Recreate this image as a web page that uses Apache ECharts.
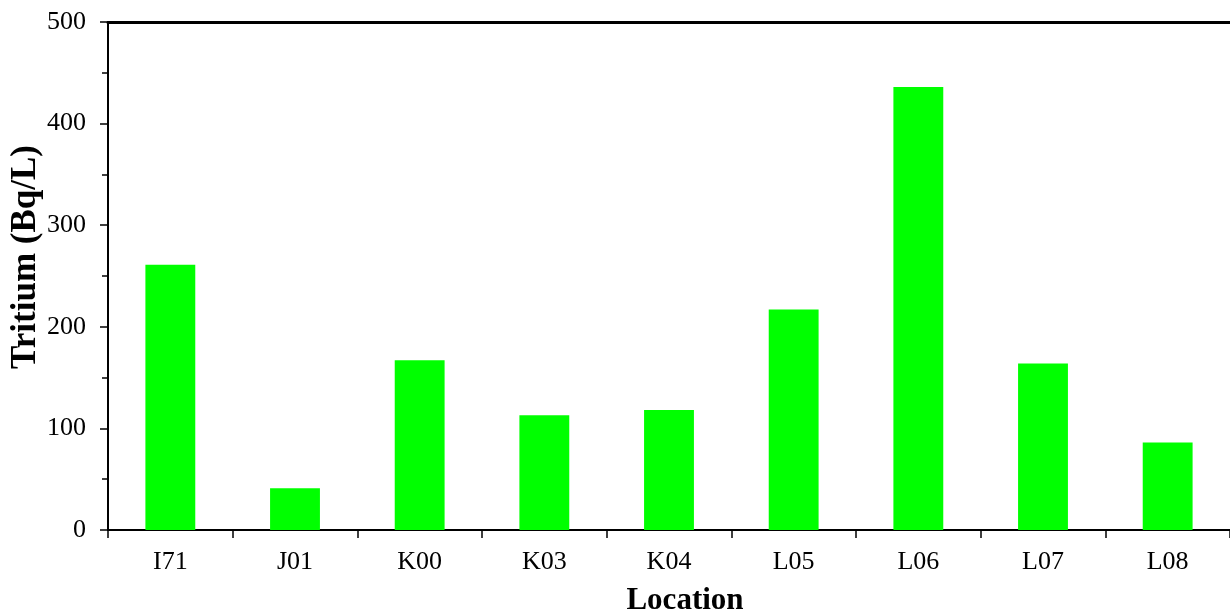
<!DOCTYPE html>
<html>
<head>
<meta charset="utf-8">
<script src="https://cdn.jsdelivr.net/npm/echarts@6/dist/echarts.min.js"></script>
<style>
html,body{margin:0;padding:0;background:#fff;}
#chart{width:1230px;height:611px;}
</style>
</head>
<body>
<div id="chart"></div>
<script>
var categories = ['I71','J01','K00','K03','K04','L05','L06','L07','L08'];
var tritium = [261, 41, 167, 113, 118, 217, 436, 164, 86];
var yTicks = [0, 100, 200, 300, 400, 500];

var FONT = '"Liberation Serif", "Times New Roman", serif';
var chart = echarts.init(document.getElementById('chart'), null, {renderer: 'canvas'});
chart.setOption({
  animation: false,
  backgroundColor: '#ffffff',
  grid: {left: 108, right: 0, top: 22, bottom: 81, containLabel: false, outerBoundsMode: 'none'},
  xAxis: [{
    type: 'category',
    data: categories,
    position: 'bottom',
    name: 'Location',
    nameLocation: 'middle',
    nameGap: 55,
    nameMoveOverlap: false,
    nameTextStyle: {fontFamily: FONT, fontWeight: 'bold', fontSize: 31, color: '#000', padding: [0, 0, 0, 32]},
    axisLine: {lineStyle: {color: '#000', width: 2}},
    axisTick: {show: true, length: 8, inside: false, alignWithLabel: false, lineStyle: {color: '#000', width: 1.5}},
    axisLabel: {fontFamily: FONT, fontSize: 26, color: '#000', margin: 19},
    splitLine: {show: false}
  }, {
    type: 'category',
    data: categories,
    position: 'top',
    axisLine: {lineStyle: {color: '#000', width: 3}},
    axisTick: {show: false},
    axisLabel: {show: false},
    splitLine: {show: false}
  }],
  yAxis: {
    type: 'value',
    min: 0,
    max: 500,
    interval: 100,
    name: 'Tritium (Bq/L)',
    nameLocation: 'middle',
    nameGap: 65,
    nameMoveOverlap: false,
    nameTextStyle: {fontFamily: FONT, fontWeight: 'bold', fontSize: 35, color: '#000', padding: [0, 0, 0, 38]},
    axisLine: {show: true, lineStyle: {color: '#000', width: 2}},
    axisTick: {show: true, length: 8, lineStyle: {color: '#000', width: 1.5}},
    minorTick: {show: true, splitNumber: 2, length: 6, lineStyle: {color: '#000', width: 1.5}},
    axisLabel: {fontFamily: FONT, fontSize: 26, color: '#000', margin: 22,
      formatter: function (v) { return yTicks.indexOf(v) >= 0 ? String(v) : ''; }},
    splitLine: {show: false}
  },
  series: [{
    type: 'bar',
    data: tritium,
    barWidth: '40%',
    itemStyle: {color: '#00ff00'}
  }]
});
</script>
</body>
</html>
